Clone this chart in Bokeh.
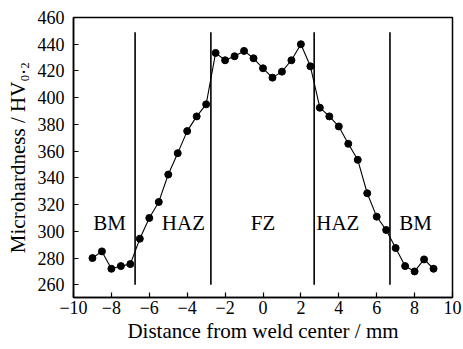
from bokeh.plotting import figure
from bokeh.models import Range1d, FixedTicker
from bokeh.embed import file_html
from bokeh.resources import INLINE
from bokeh.core.properties import value

distance = [-9, -8.5, -8, -7.5, -7, -6.5, -6, -5.5, -5, -4.5, -4, -3.5, -3,
            -2.5, -2, -1.5, -1, -0.5, 0, 0.5, 1, 1.5, 2, 2.5, 3, 3.5, 4, 4.5,
            5, 5.5, 6, 6.5, 7, 7.5, 8, 8.5, 9]
hardness = [280, 285, 272, 274, 275.5, 294.5, 310, 322, 342.5, 358.5, 375, 386, 395,
            433.5, 428, 431, 435, 429.5, 422, 415, 419.5, 428, 440, 423.5, 392.5, 386,
            378.5, 365.5, 353.5, 328.5, 311, 301, 287.5, 274, 270, 279, 272]

boundaries = [-6.75, -2.75, 2.7, 6.7]
boundary_bottom = [260, 260, 260, 260]
boundary_top = [449, 449, 449, 449]

zone_names = ["BM", "HAZ", "FZ", "HAZ", "BM"]
zone_x = [-8.1, -4.2, 0, 3.95, 8.05]
zone_y = [306, 306, 306, 306, 306]

x_ticks = [-10, -8, -6, -4, -2, 0, 2, 4, 6, 8, 10]
y_ticks = [260, 280, 300, 320, 340, 360, 380, 400, 420, 440, 460]

FONT = "Liberation Serif"

p = figure(width=463, height=349, output_backend="svg", toolbar_location=None,
           x_range=Range1d(-10, 10), y_range=Range1d(250.5, 460),
           min_border_left=73, min_border_right=11, min_border_top=17, min_border_bottom=52)

p.grid.visible = False
p.outline_line_color = "black"
p.outline_line_width = 1.5
p.background_fill_color = "white"
p.border_fill_color = "white"

for ax in (p.xaxis[0], p.yaxis[0]):
    ax.axis_line_color = "black"
    ax.axis_line_width = 1.5
    ax.major_tick_in = 5
    ax.major_tick_out = 0
    ax.major_tick_line_width = 1.2
    ax.minor_tick_line_color = None
    ax.major_label_text_font = FONT
    ax.major_label_text_font_size = "18px"
    ax.major_label_text_color = "black"
    ax.axis_label_text_font = FONT
    ax.axis_label_text_font_size = "21px"
    ax.axis_label_text_font_style = "normal"
    ax.axis_label_text_color = "black"

p.xaxis.ticker = FixedTicker(ticks=x_ticks)
p.yaxis.ticker = FixedTicker(ticks=y_ticks)
p.xaxis.major_label_overrides = {t: (str(t).replace("-", "\u2212")) for t in x_ticks}
p.xaxis.major_label_standoff = 3
p.xaxis.axis_label_standoff = 2
p.yaxis.major_label_standoff = 9
p.yaxis.axis_label_standoff = 5
p.xaxis.axis_label = "Distance from weld center / mm"
p.yaxis.axis_label = "Microhardness / HV\u2080.\u2082"

p.segment(x0=boundaries, y0=boundary_bottom, x1=boundaries, y1=boundary_top,
          line_color="black", line_width=1.6)

p.line(distance, hardness, line_color="black", line_width=1.1)
p.scatter(distance, hardness, size=7, marker="circle", fill_color="black", line_color="black")

p.text(x=zone_x, y=zone_y, text=zone_names, text_font=value(FONT), text_font_size="21px",
       text_align="center", text_baseline="middle", text_color="black")

open("out.html", "w").write(file_html(p, INLINE))
